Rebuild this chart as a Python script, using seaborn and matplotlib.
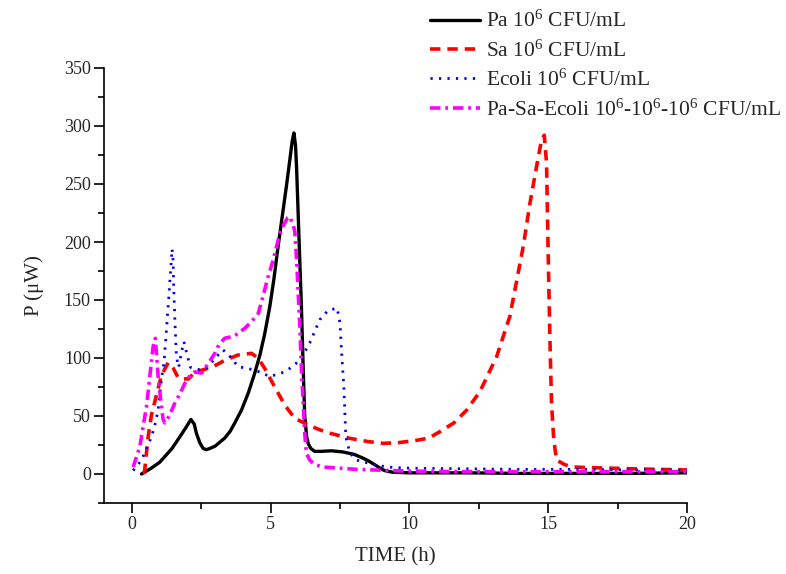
import numpy as np
import pandas as pd
import matplotlib
matplotlib.use("Agg")
import matplotlib.pyplot as plt
import seaborn as sns

# ---- data ----
pa_t = [0.35, 0.7, 1.0, 1.19, 1.45, 1.73, 1.95, 2.13, 2.25, 2.33, 2.45, 2.57, 2.69, 2.81, 3.0,
        3.2, 3.35, 3.55, 3.71, 3.95, 4.2, 4.43, 4.62, 4.79, 4.97, 5.12, 5.27, 5.42, 5.57, 5.7,
        5.78, 5.84, 5.9, 5.94, 6.0, 6.05, 6.11, 6.17, 6.23, 6.3, 6.36, 6.45, 6.59, 6.8, 7.2,
        7.6, 8.0, 8.3, 8.55, 8.75, 8.95, 9.1, 9.4, 10, 11, 12, 13, 14, 15, 16, 17, 18, 19, 20]
pa_p = [0, 5, 10, 15, 22, 32, 40, 47, 43, 35, 27, 22, 21, 22, 24,
        28, 31, 37, 44, 55, 70, 87, 103, 121, 144, 168, 196, 222, 248, 272,
        287, 294, 283, 262, 220, 185, 145, 95, 50, 32, 26, 22, 19.5, 19.5, 20,
        19, 17, 14, 11, 8, 5, 3, 1.5, 1, 1, 1, 0.8, 0.5, 0.5, 0.5, 0.5, 0.5, 0.8, 1]

sa_t = [0.45, 0.59, 0.71, 0.89, 1.07, 1.31, 1.5, 1.67, 1.85, 2.05, 2.27, 2.6, 2.93, 3.35,
        3.83, 4.31, 4.55, 4.79, 5.15, 5.51, 5.87, 6.47, 7.0, 7.86, 8.5, 9.06, 9.6, 10.26,
        10.7, 11.1, 11.6, 12.06, 12.54, 13.14, 13.62, 14.1, 14.34, 14.58, 14.76, 14.86,
        14.94, 15.0, 15.06, 15.12, 15.2, 15.3, 15.6, 15.9, 16.5, 17.3, 18, 19, 20]
sa_p = [0, 32, 51, 68, 85, 96, 91, 83, 82, 82, 88, 90, 92.5, 98,
        102.6, 104, 100, 91, 75, 59.5, 48, 41, 36, 30.7, 28, 26.4, 27, 29,
        31, 36.5, 44, 55, 71, 101, 136, 196, 233, 265, 288, 292,
        268, 190, 118, 61, 30, 12, 8, 6, 5.5, 5, 4.5, 4, 3.5]

ec_t = [0.05, 0.35, 0.53, 0.71, 0.83, 0.95, 1.07, 1.16, 1.25, 1.29, 1.33, 1.37, 1.41, 1.45,
        1.49, 1.51, 1.54, 1.56, 1.61, 1.69, 1.79, 1.88, 1.99, 2.11, 2.4, 2.75, 3.0, 3.29,
        3.59, 3.83, 4.19, 4.61, 4.97, 5.39, 5.69, 6.0, 6.2, 6.41, 6.77, 7.07, 7.4, 7.5,
        7.56, 7.64, 7.71, 7.86, 8.1, 8.58, 9.18, 10, 12, 14, 16, 18, 20]
ec_p = [3, 12, 22, 32, 42, 55, 82, 96, 124, 138, 151, 165, 179, 194,
        184, 160, 142, 128, 101, 92, 105, 114, 103, 92, 90, 92, 100, 107,
        100, 92.5, 91, 88, 84, 87, 91, 97, 104, 113, 133, 141, 143, 130,
        104, 75, 32, 18, 12, 9, 6, 5, 4.5, 4, 4, 3.5, 3.5]

mx_t = [0.05, 0.29, 0.41, 0.53, 0.65, 0.77, 0.85, 0.95, 1.05, 1.13, 1.19, 1.35, 1.55, 1.75,
        1.91, 2.1, 2.27, 2.51, 2.75, 2.99, 3.15, 3.35, 3.7, 4.07, 4.3, 4.55, 4.67, 4.91,
        5.1, 5.33, 5.5, 5.62, 5.69, 5.8, 5.87, 5.94, 6.0, 6.05, 6.12, 6.17, 6.23, 6.29,
        6.41, 6.6, 6.9, 7.5, 8.1, 9.3, 10, 12, 14, 16, 18, 20]
mx_p = [6, 23.5, 41, 58, 84, 110, 117, 84, 62, 47, 44, 50, 61, 70,
        78, 85, 88, 87, 95, 104, 112, 117, 119, 125.6, 131, 138, 148, 170,
        185, 207, 216, 221, 222, 215, 210, 184, 153, 130, 85, 64, 35, 18,
        12, 8, 6, 5, 4, 3, 2.5, 2, 2, 2, 2, 2]

labels = [r"Pa $\mathregular{10^{6}}$ CFU/mL",
          r"Sa $\mathregular{10^{6}}$ CFU/mL",
          r"Ecoli $\mathregular{10^{6}}$ CFU/mL",
          r"Pa-Sa-Ecoli $\mathregular{10^{6}}$-$\mathregular{10^{6}}$-$\mathregular{10^{6}}$ CFU/mL"]
x_ticks = [0, 5, 10, 15, 20]
y_ticks = [0, 50, 100, 150, 200, 250, 300, 350]

# ---- style ----
sns.set_style("ticks")
plt.rcParams["font.family"] = ["Liberation Serif", "DejaVu Serif"]
plt.rcParams["mathtext.fontset"] = "custom"
plt.rcParams["mathtext.rm"] = "Liberation Serif"
plt.rcParams["lines.scale_dashes"] = False

fig = plt.figure(figsize=(7.86, 5.74), dpi=100)
ax = fig.add_axes([104 / 786, 1 - 503 / 574, (687 - 104) / 786, (503 - 68) / 574])

series = [
    (pa_t, pa_p, "black", "-", 2.4),
    (sa_t, sa_p, "#ff0000", (0, (7.5, 5)), 2.6),
    (ec_t, ec_p, "#0000ff", (0, (1.6, 4.5)), 2.0),
    (mx_t, mx_p, "#ff00ff", (0, (7.5, 3.5, 2, 3.5)), 2.6),
]
for (t, p, c, ls, lw), lab in zip(series, labels):
    df = pd.DataFrame({"t": t, "p": p})
    sns.lineplot(data=df, x="t", y="p", ax=ax, color=c, linestyle=ls,
                 linewidth=lw, sort=False, estimator=None, label=lab, legend=False)

ax.set_xlim(-1, 20)
ax.set_ylim(-25, 350)
ax.set_xticks(x_ticks)
ax.set_yticks(y_ticks)
ax.set_xticks(np.arange(2.5, 20, 5), minor=True)
ax.set_yticks(np.arange(-25, 350, 50), minor=True)
ax.tick_params(axis="both", which="major", direction="out", length=7, width=1.2,
               labelsize=13, pad=2.5, color="black")
ax.tick_params(axis="both", which="minor", direction="out", length=4, width=1.2,
               color="black")
for s in ["top", "right"]:
    ax.spines[s].set_visible(False)
for s in ["left", "bottom"]:
    ax.spines[s].set_linewidth(1.2)
    ax.spines[s].set_color("black")

ax.set_xlabel("TIME (h)", fontsize=15, labelpad=10)
ax.set_ylabel("P (μW)", fontsize=15, labelpad=14)

handles, labs = ax.get_legend_handles_labels()
fig.legend(handles, labs, loc="upper left", bbox_to_anchor=(430 / 786, 1 - 11 / 574),
           frameon=False, fontsize=15.5, handlelength=2.3, handletextpad=0.3,
           labelspacing=0.38, borderpad=0, borderaxespad=0)

fig.savefig("out.png", dpi=100, facecolor="white")
